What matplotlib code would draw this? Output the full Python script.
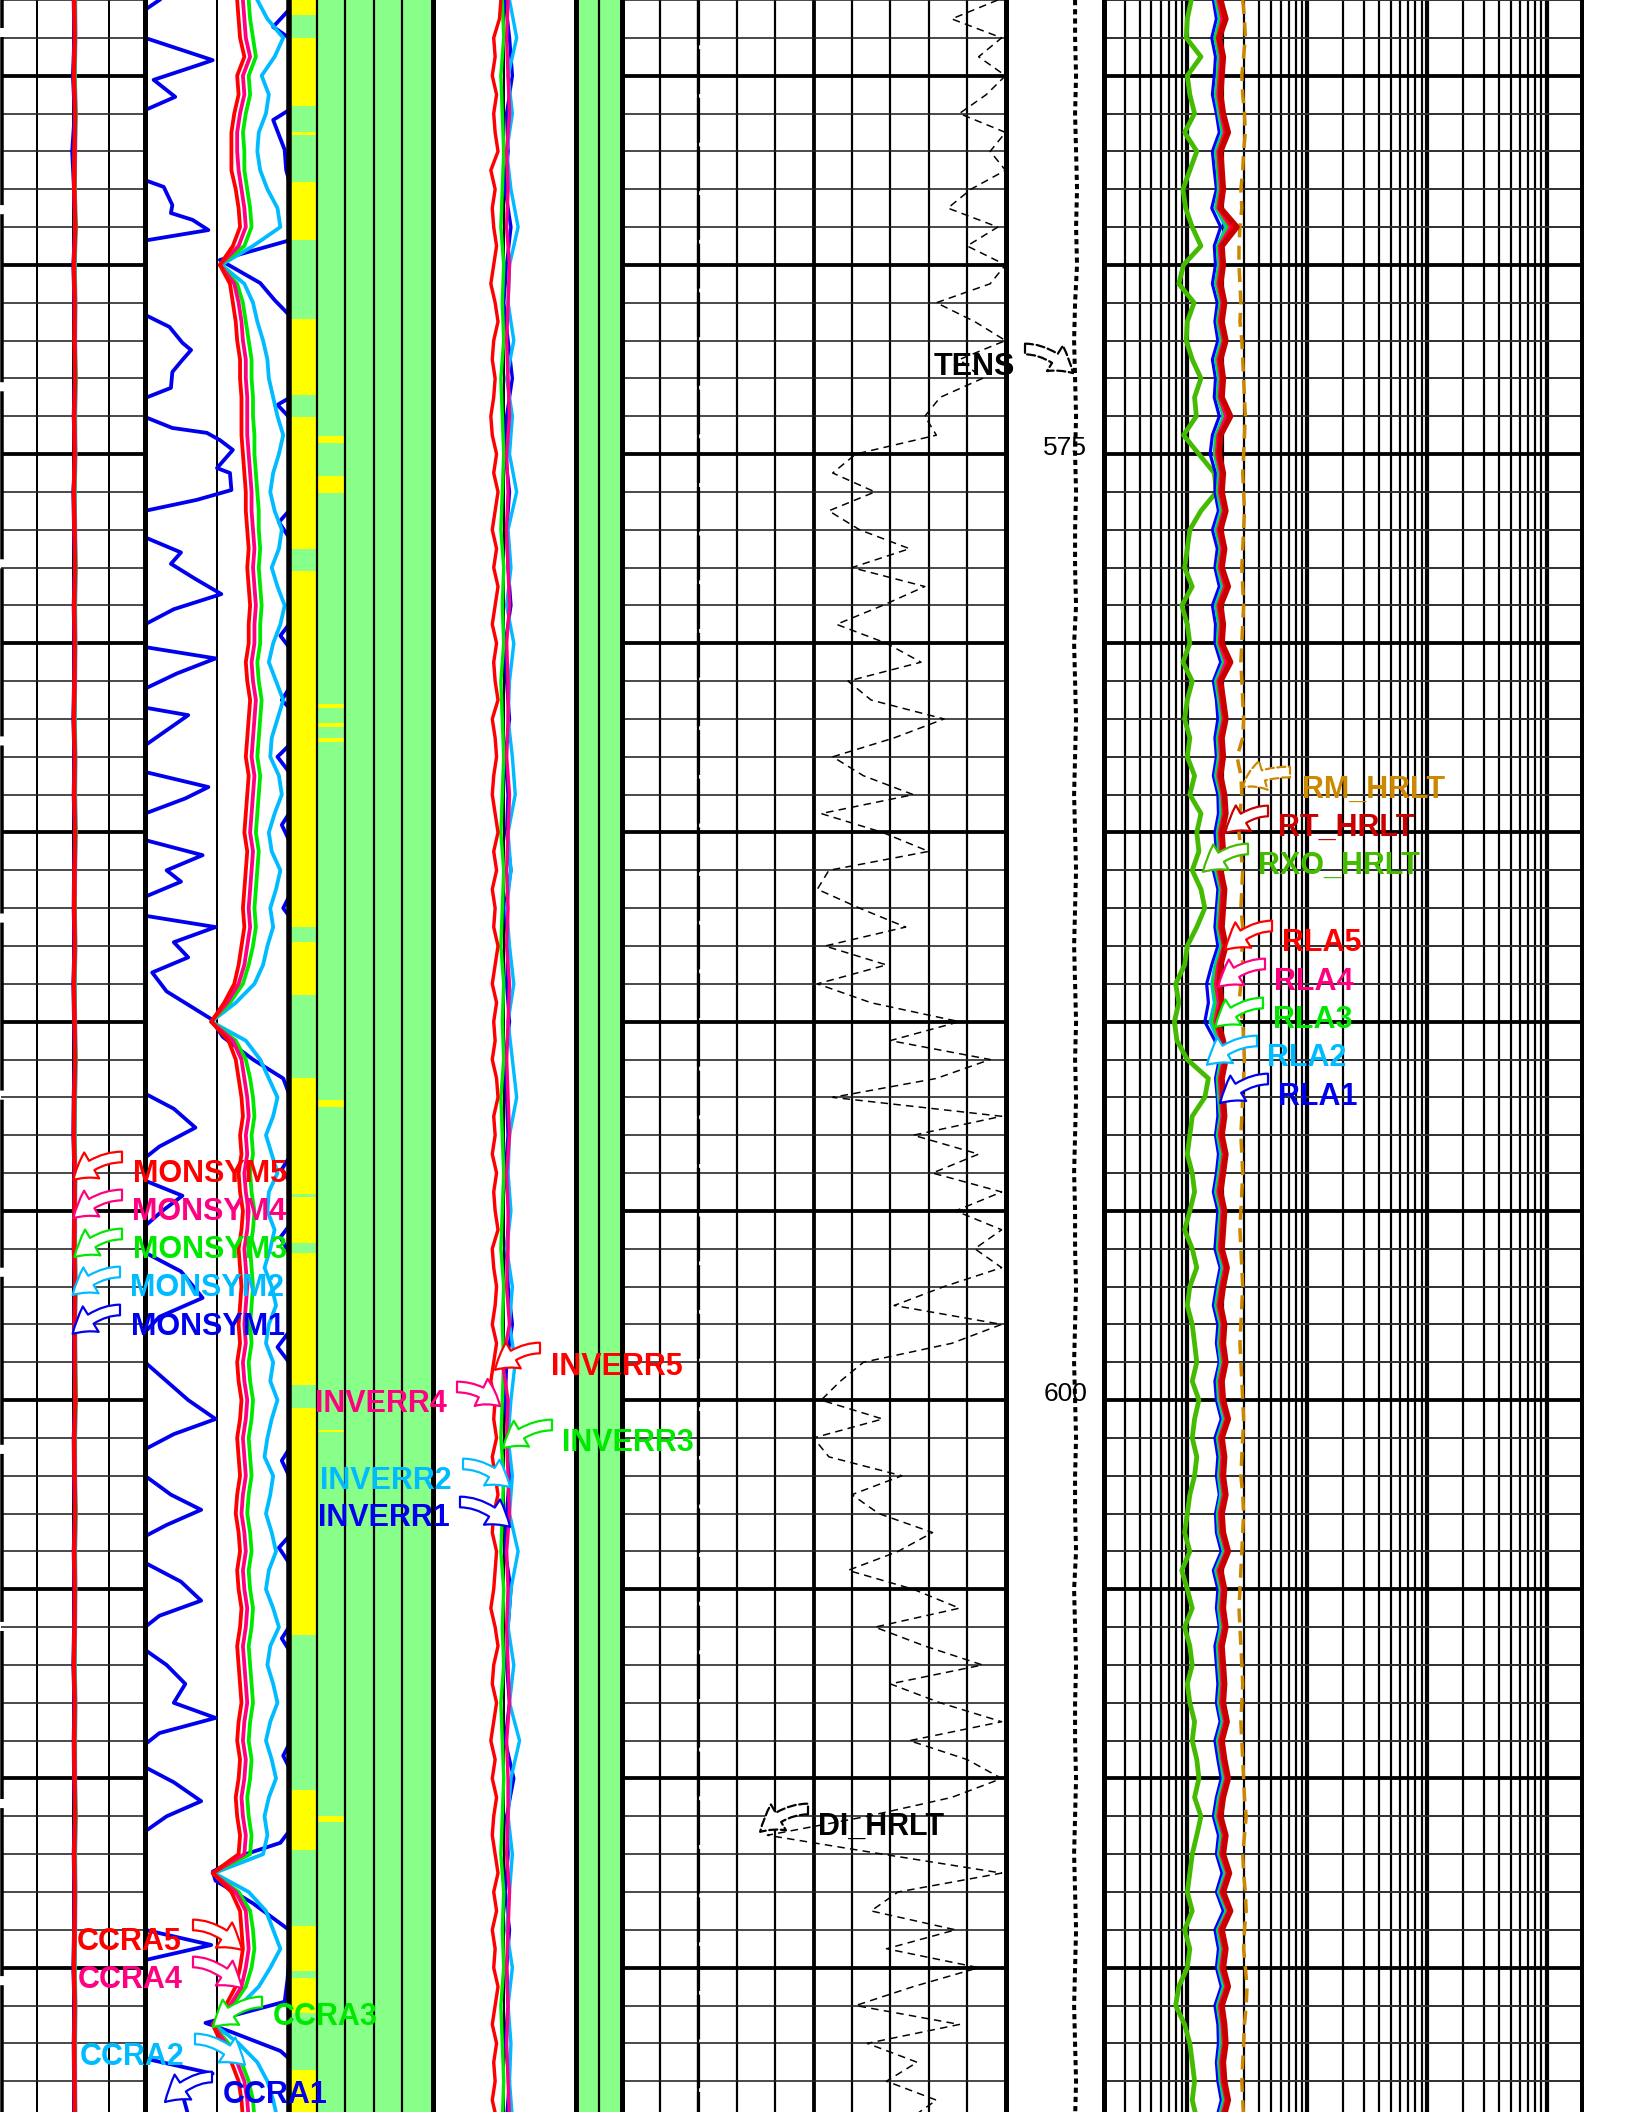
import numpy as np
import matplotlib
matplotlib.use("Agg")
import matplotlib.pyplot as plt

plt.rcParams['font.family'] = ['Liberation Sans', 'DejaVu Sans']

W, H, DPI = 1632, 2112, 100
PX_PER_M = 37.84
D_TOP = 563.0
D_BOT = D_TOP + H / PX_PER_M
PT = 72.0 / DPI          # points per pixel
STEP = 0.5               # sampling step (m) of the half-metre curves
STEP1 = 1.0              # sampling step (m) of the one-metre curves

# ------------------------------------------------------------------ data
depth_labels = [575, 600]

# Track 1 : MONSYM1..5 (1 m samples from 563 m)
monsym5 = [2.03,2.05,2.02,2.06,2.04,2.03,2.07,2.02,2.05,2.04,
           2.06,2.03,2.05,2.02,2.04,2.06,2.03,2.05,2.04,2.02,
           2.05,2.03,2.06,2.04,2.03,2.05,2.02,2.04,2.06,2.03,
           2.02,2.05,2.04,2.03,2.06,2.04,2.05,2.07,2.03,2.04,
           2.06,2.03,2.05,2.04,2.02,2.05,2.03,2.04,2.06,2.03,
           2.05,2.04,2.02,2.05,2.03,2.04,2.05]
monsym4 = [2.04,2.05,2.03,2.06,2.05,2.04,2.06,2.03,2.05,2.05,
           2.06,2.04,2.05,2.03,2.05,2.06,2.04,2.05,2.05,2.03,
           2.05,2.04,2.06,2.05,2.04,2.05,2.03,2.05,2.06,2.04,
           2.03,2.05,2.05,2.04,2.06,2.05,2.05,2.06,2.04,2.05,
           2.06,2.04,2.05,2.05,2.03,2.05,2.04,2.05,2.06,2.04,
           2.05,2.05,2.03,2.05,2.04,2.05,2.05]
monsym3 = [2.05,2.06,2.04,2.07,2.05,2.05,2.07,2.04,2.06,2.05,
           2.07,2.05,2.06,2.04,2.05,2.07,2.05,2.06,2.05,2.04,
           2.06,2.05,2.07,2.05,2.05,2.06,2.04,2.05,2.07,2.05,
           2.04,2.06,2.05,2.05,2.07,2.05,2.06,2.07,2.05,2.05,
           2.07,2.05,2.06,2.05,2.04,2.06,2.05,2.05,2.07,2.05,
           2.06,2.05,2.04,2.06,2.05,2.05,2.06]
monsym2 = [2.06,2.07,2.05,2.08,2.06,2.05,2.08,2.05,2.07,2.06,
           2.08,2.06,2.07,2.05,2.06,2.08,2.06,2.07,2.06,2.05,
           2.07,2.06,2.08,2.06,2.05,2.07,2.05,2.06,2.08,2.06,
           2.05,2.07,2.06,2.06,2.08,2.06,2.07,2.08,2.06,2.06,
           2.08,2.06,2.07,2.06,2.05,2.07,2.06,2.06,2.08,2.06,
           2.07,2.06,2.05,2.07,2.06,2.06,2.07]
monsym1 = [2.02,2.04,2.00,2.05,1.98,2.03,2.06,2.01,2.04,2.05,
           2.05,2.02,2.06,2.01,2.03,2.05,2.02,2.04,2.03,2.01,
           2.04,2.02,2.05,2.03,2.02,2.04,2.01,2.03,2.05,2.02,
           2.01,2.04,2.03,2.02,2.05,2.03,2.04,2.06,2.02,2.03,
           2.05,2.02,2.04,2.03,2.01,2.04,2.02,2.03,2.05,2.02,
           2.04,2.03,2.01,2.04,2.02,2.03,2.04]

# Track 2 : CCRA2..5 (0.5 m samples from 563 m), track units 0..10
ccra5 = [6.4,6.5,6.6,6.9,6.4,6.5,6.2,6.0,6.0,6.0,
         6.3,6.5,6.6,6.1,5.2,5.9,6.1,6.3,6.4,6.6,
         6.6,6.7,6.7,6.7,6.8,6.9,7.0,7.0,7.1,7.2,
         7.1,7.2,7.3,7.2,7.2,7.0,7.1,7.3,7.2,7.1,
         7.0,7.2,7.1,7.0,6.9,7.1,7.0,6.9,6.8,6.9,
         6.7,6.5,6.2,5.5,4.6,5.8,6.3,6.5,6.7,6.8,
         6.6,6.7,6.5,6.6,6.8,6.7,6.5,6.6,6.7,6.6,
         6.5,6.6,6.4,6.5,6.7,6.6,6.4,6.5,6.6,6.4,
         6.3,6.5,6.6,6.4,6.5,6.7,6.6,6.4,6.5,6.6,
         6.7,6.5,6.4,6.6,6.5,6.3,6.4,6.6,6.5,4.7,
         6.0,6.6,6.7,6.8,6.6,6.3,5.6,4.7,5.3,6.0,
         6.5,6.7,6.8]
ccra4 = [6.8,6.9,7.0,7.3,6.8,6.9,6.6,6.4,6.4,6.5,
         6.7,6.9,7.0,6.5,5.2,6.2,6.5,6.7,6.8,7.0,
         7.0,7.1,7.1,7.1,7.2,7.3,7.4,7.4,7.5,7.6,
         7.5,7.6,7.7,7.6,7.6,7.4,7.5,7.7,7.6,7.5,
         7.4,7.6,7.5,7.4,7.3,7.5,7.4,7.3,7.2,7.3,
         7.1,6.9,6.5,5.7,4.6,6.1,6.7,6.9,7.1,7.2,
         7.0,7.1,6.9,7.0,7.2,7.1,6.9,7.0,7.1,7.0,
         6.9,7.0,6.8,6.9,7.1,7.0,6.8,6.9,7.0,6.8,
         6.7,6.9,7.0,6.8,6.9,7.1,7.0,6.8,6.9,7.0,
         7.1,6.9,6.8,7.0,6.9,6.7,6.8,7.0,6.9,4.7,
         6.3,7.0,7.1,7.2,7.0,6.7,5.9,4.7,5.6,6.4,
         6.9,7.1,7.2]
ccra3 = [7.2,7.3,7.5,7.7,7.2,7.3,7.0,6.8,6.9,6.9,
         7.1,7.3,7.4,6.9,5.2,6.4,6.8,7.0,7.2,7.4,
         7.4,7.5,7.5,7.6,7.6,7.7,7.8,7.9,7.9,8.0,
         7.9,8.0,8.1,8.0,8.0,7.8,7.9,8.1,8.0,7.9,
         7.8,8.0,7.9,7.8,7.7,7.9,7.8,7.7,7.6,7.7,
         7.5,7.2,6.8,5.9,4.6,6.3,7.0,7.3,7.5,7.6,
         7.4,7.5,7.3,7.4,7.6,7.5,7.3,7.4,7.5,7.4,
         7.3,7.4,7.2,7.3,7.5,7.4,7.2,7.3,7.4,7.2,
         7.1,7.3,7.4,7.2,7.3,7.5,7.4,7.2,7.3,7.4,
         7.5,7.3,7.2,7.4,7.3,7.1,7.2,7.4,7.3,4.7,
         6.5,7.3,7.5,7.6,7.4,7.0,6.1,4.7,5.8,6.7,
         7.2,7.5,7.6]
ccra2 = [7.8,8.5,9.6,9.0,8.1,8.6,8.4,7.9,7.8,8.0,
         8.5,9.2,9.4,7.5,5.3,6.9,7.5,7.8,8.2,8.5,
         8.6,8.9,9.2,9.6,9.3,8.9,8.7,9.0,9.5,9.3,
         8.8,9.2,9.7,9.4,8.9,8.6,9.1,9.6,9.2,8.8,
         8.7,9.3,9.5,9.0,8.6,8.8,9.4,9.1,8.7,8.9,
         8.5,8.2,7.6,6.3,4.6,7.0,8.0,8.6,9.2,8.9,
         8.4,8.8,9.2,8.6,8.5,9.0,8.7,8.3,8.8,9.1,
         8.6,8.4,8.9,8.7,9.2,8.8,8.5,8.3,8.9,8.7,
         8.4,8.8,9.1,8.6,8.4,8.9,9.3,8.7,8.5,8.9,
         9.2,8.7,8.4,8.8,9.1,8.6,8.3,8.5,8.2,4.8,
         7.2,8.4,8.9,9.4,8.7,7.9,6.6,4.8,6.5,7.8,
         8.5,8.9,9.2]
# CCRA1 : wrapped curve, explicit vertices (depth m, value in track units, >10 = wrapped)
ccra1_depth = [563.00,563.26,563.71,564.00,564.59,564.72,565.11,565.56,565.91,566.17,
               566.96,567.49,567.76,567.94,568.42,568.63,568.81,569.08,569.36,569.87,
               570.48,570.93,571.32,571.64,572.06,572.25,572.51,572.83,573.25,573.52,
               573.70,574.02,574.31,574.44,574.63,574.89,575.37,575.50,575.95,576.21,
               576.50,576.80,577.20,577.60,577.90,578.30,578.70,579.10,579.50,579.80,
               580.10,580.40,580.80,581.20,581.50,581.70,581.90,582.30,582.70,583.00,
               583.40,583.80,584.10,584.50,584.80,585.20,585.60,586.00,586.30,586.70,
               587.00,587.20,587.50,587.90,588.30,588.70,589.20,589.60,589.93,590.40,
               591.00,591.50,591.90,592.30,592.80,593.30,593.60,593.90,594.20,594.60,
               595.00,595.40,595.70,596.10,596.60,597.30,597.80,598.20,598.60,599.00,
               599.50,600.00,600.50,600.90,601.30,601.60,602.00,602.50,602.90,603.30,
               603.60,603.90,604.30,604.80,605.30,605.70,606.00,606.30,606.60,607.00,
               607.50,608.00,608.40,608.80,609.10,609.40,609.70,610.10,610.60,611.00,
               611.40,611.70,612.00,612.46,612.70,613.30,614.00,614.40,614.80,615.30,
               615.90,616.46,616.70,617.20,617.40,617.80,618.20,618.90]
ccra1_value = [11.0,10.0,8.9,10.0,14.7,13.7,10.6,12.1,10.0,8.9,
               9.7,9.8,10.0,11.3,11.9,11.8,13.3,14.4,9.95,5.2,
               8.0,9.0,10.0,11.7,12.6,13.2,12.6,11.9,11.8,10.0,
               9.2,10.0,11.9,14.3,15.2,16.1,15.0,15.9,16.0,13.6,
               10.0,9.3,10.0,12.5,11.8,13.5,15.3,12.0,10.0,9.4,
               10.0,14.9,12.2,10.0,9.5,10.0,13.0,11.5,10.0,9.2,
               10.0,14.4,12.8,10.0,9.5,10.0,14.0,11.5,12.5,10.0,
               9.6,10.0,14.9,12.0,13.0,10.5,11.5,13.2,14.6,15.4,
               17.5,19.6,20.0,22.0,23.5,21.0,20.0,19.5,20.0,22.6,
               21.2,20.0,19.4,20.0,22.5,24.0,21.0,20.0,19.2,20.0,
               21.5,23.0,24.9,22.0,20.0,19.5,20.0,21.8,23.9,21.5,
               20.0,19.3,20.0,22.5,23.9,21.0,20.0,19.5,20.0,21.5,
               22.8,22.0,24.9,21.0,20.0,19.6,20.0,22.0,23.9,21.5,
               20.0,19.4,17.0,14.7,14.9,17.5,20.0,24.6,20.0,19.9,
               19.7,14.2,16.0,19.4,20.0,24.7,22.5,23.0]

# Track 3 : facies columns (depth intervals, m)
colA_yellow_top = [563.0,564.0,566.5,567.8,571.43,574.02,578.1,587.9,591.5,594.63,
                   596.1,600.2,610.3,613.9,615.27,617.7]
colA_yellow_bot = [563.4,565.8,566.57,569.34,573.44,577.5,587.5,589.3,594.55,595.85,
                   599.6,606.2,611.9,615.1,616.2,618.9]
colB_yellow_top = [574.52,575.58,581.6,582.1,582.5,592.07,600.8,611.0]
colB_yellow_bot = [574.71,576.03,581.7,582.2,582.6,592.25,600.85,611.15]

# Track 4 : INVERR1..5, track units 0..10 (centre 5)
inverr5 = [4.8,4.7,4.3,4.4,4.2,4.5,4.3,4.4,4.6,4.1,
           4.4,4.2,4.3,4.5,4.3,4.1,4.4,4.6,4.3,4.2,
           4.4,4.3,4.1,4.2,4.5,4.3,4.6,4.4,4.2,4.5,
           4.3,4.6,4.4,4.2,4.5,4.3,4.4,4.6,4.2,4.4,
           4.5,4.3,4.2,4.4,4.6,4.3,4.5,4.2,4.4,4.3,
           4.6,4.4,4.2,4.5,4.3,4.4,4.2,4.5,4.6,4.3,
           4.4,4.2,4.5,4.3,4.4,4.6,4.2,4.3,4.5,4.4,
           4.2,4.5,4.3,4.1,4.4,4.3,4.5,4.2,4.4,4.6,
           4.3,4.2,4.5,4.4,4.3,4.1,4.4,4.6,4.3,4.2,
           4.5,4.3,4.1,4.4,4.2,4.5,4.3,4.2,4.4,4.6,
           4.3,4.5,4.2,4.4,4.3,4.6,4.4,4.2,4.5,4.3,
           4.4,4.2,4.5]
inverr4 = [5.3,5.2,5.3,5.4,5.2,5.3,5.2,5.4,5.3,5.2,
           5.3,5.4,5.2,5.3,5.2,5.3,5.4,5.2,5.3,5.3,
           5.2,5.4,5.3,5.2,5.3,5.2,5.4,5.3,5.2,5.3,
           5.4,5.2,5.3,5.3,5.2,5.4,4.9,5.3,5.2,5.3,
           5.4,5.2,5.3,5.2,5.3,5.4,5.2,5.3,5.3,5.2,
           5.4,5.3,5.2,5.3,5.2,5.3,5.4]
inverr3 = [4.9,5.0,4.8,4.9,5.0,4.9,4.8,5.0,4.9,5.0,
           4.8,4.9,5.0,4.9,4.8,5.0,4.9,5.0,4.8,4.9,
           5.0,4.9,4.8,5.0,4.9,4.8,5.0,4.9,5.0,4.8,
           4.9,5.0,4.9,4.8,5.0,4.9,5.0,4.9,4.8,5.0,
           4.9,4.8,5.0,4.9,5.0,4.8,4.9,5.0,4.9,4.8,
           5.0,4.9,5.0,4.8,4.9,5.0,4.9]
inverr2 = [5.4,5.9,5.3,5.6,5.2,5.5,6.0,5.4,5.3,5.7,
           5.2,5.6,5.4,5.9,5.3,5.5,5.2,5.7,5.4,5.3,
           5.6,5.8,5.3,5.5,5.2,5.4,5.7,5.3,5.6,5.9,
           5.4,5.3,5.5,5.2,5.6,5.4,5.8,5.5,5.3,5.6,
           5.4,6.0,5.5,5.3,5.7,5.4,6.1,5.5,5.3,5.6,
           5.4,5.2,5.6,5.3,5.5,5.4,5.6]
inverr1 = [5.1,5.4,5.6,5.2,5.3,5.1,5.5,5.2,5.0,5.3,
           5.6,5.2,5.1,5.4,5.2,5.3,5.5,5.1,5.2,5.4,
           5.1,5.3,5.2,5.5,5.1,5.3,5.2,5.4,5.1,5.2,
           5.3,5.1,5.4,5.2,5.3,5.6,5.2,5.1,5.3,5.4,
           5.2,5.1,5.5,5.3,5.2,5.4,5.1,5.7,5.2,5.3,
           5.1,5.4,5.2,5.3,5.1,5.4,5.2]

# Track 6 : DI_HRLT (0.5 m samples), BS reference line, track units 0..10
di_hrlt = [9.8,8.6,9.9,9.3,10.0,9.5,8.8,10.0,9.6,10.0,
           9.1,8.5,9.8,9.0,10.0,9.6,8.2,9.2,10.0,8.8,
           9.4,8.3,7.9,8.2,6.1,5.5,6.6,5.4,6.2,7.5,
           6.0,7.9,6.8,5.6,6.9,7.8,5.9,6.5,8.4,7.1,
           5.5,6.3,7.6,5.2,6.8,8.0,5.4,5.1,6.2,7.4,
           5.3,6.9,5.1,6.5,8.8,7.0,9.6,8.2,5.5,9.9,
           7.6,9.3,8.1,9.9,8.7,9.9,9.2,9.9,8.4,7.1,
           9.9,8.6,6.3,5.7,5.2,6.8,5.0,5.4,7.3,6.0,
           6.7,8.1,7.2,5.9,7.6,8.8,6.6,7.9,9.4,7.0,
           8.3,9.9,7.5,9.0,9.9,8.6,6.4,3.8,6.8,9.9,
           7.2,6.5,8.7,6.9,9.3,7.6,6.1,8.8,6.4,7.7,
           6.9,8.2,7.5]
bs_depth = [563.0, 619.0]
bs_value = [2.0, 2.0]

# Track 7 : TENS (1 m samples), track units 0..10
tens = [7.1,7.1,7.2,7.1,7.2,7.3,7.2,7.3,7.1,7.0,
        7.1,7.2,7.1,7.2,7.1,7.1,7.2,7.0,7.1,7.2,
        7.1,7.0,7.1,7.2,7.1,7.0,7.1,7.2,7.1,7.2,
        7.1,7.0,7.1,7.1,7.2,7.1,7.0,7.1,7.2,7.1,
        7.1,7.2,7.0,7.1,7.2,7.1,7.1,7.2,7.1,7.0,
        7.1,7.2,7.1,7.0,7.1,7.2,7.1]

# Track 8 : resistivities (ohm.m, 0.5 m samples)
rxo_hrlt = [1.08,1.0,0.98,1.3,1.0,1.05,1.15,0.95,1.2,1.05,
            0.92,0.97,1.1,1.3,0.93,0.85,1.14,1.0,0.98,1.1,
            1.3,1.15,1.19,0.93,1.25,1.68,1.75,1.3,1.05,1.0,
            0.95,1.1,0.9,1.0,1.05,0.92,1.1,1.0,0.95,1.05,
            1.0,1.15,1.05,1.3,1.2,1.25,1.1,1.3,1.4,1.2,
            1.0,0.95,0.8,0.85,0.78,0.82,1.0,1.5,1.4,1.1,
            1.05,1.0,1.1,1.15,1.05,0.95,1.1,1.2,1.05,1.0,
            1.1,1.15,1.2,1.1,1.25,1.15,1.1,1.2,1.15,1.05,
            1.0,0.95,1.05,0.9,1.0,1.1,0.95,1.05,1.1,1.0,
            1.05,1.15,1.1,1.2,1.25,1.15,1.3,1.2,1.1,1.05,
            1.0,1.1,0.95,1.05,1.0,0.85,0.8,0.95,1.05,1.1,
            1.15,1.1,1.2]
rt_hrlt = [1.9,2.1,1.85,2.0,1.95,1.9,2.0,2.2,1.9,1.95,
           2.0,1.9,2.6,1.95,2.0,1.9,2.05,1.95,2.1,1.9,
           2.0,1.95,2.3,1.9,1.85,2.0,1.95,2.1,1.9,2.05,
           1.95,2.2,1.9,2.0,1.95,2.3,1.9,2.0,2.1,1.95,
           2.0,1.9,2.05,2.1,1.95,2.0,1.9,2.05,2.0,1.95,
           2.1,1.9,1.85,1.95,1.8,2.0,2.1,1.95,2.0,2.05,
           1.95,2.1,2.0,1.9,2.05,2.0,1.95,2.15,2.0,1.9,
           2.05,2.0,2.1,1.95,2.0,2.2,1.95,2.05,2.0,2.1,
           1.95,2.0,2.2,1.9,2.05,2.0,2.1,1.95,2.0,2.05,
           2.0,2.15,1.95,2.05,2.2,2.0,1.9,2.1,2.0,2.25,
           2.0,2.3,1.95,2.1,2.0,2.2,1.95,2.05,2.1,2.0,
           2.05,2.2,2.0]
rla5 = [1.85,2.0,1.8,1.95,1.9,1.85,1.95,2.1,1.85,1.9,
        1.95,1.85,2.4,1.9,1.95,1.85,2.0,1.9,2.05,1.85,
        1.95,1.9,2.2,1.85,1.8,1.95,1.9,2.05,1.85,2.0,
        1.9,2.1,1.85,1.95,1.9,2.2,1.85,1.95,2.05,1.9,
        1.95,1.85,2.0,2.05,1.9,1.95,1.85,2.0,1.95,1.9,
        2.05,1.85,1.8,1.9,1.75,1.95,2.05,1.9,1.95,2.0,
        1.9,2.05,1.95,1.85,2.0,1.95,1.9,2.1,1.95,1.85,
        2.0,1.95,2.05,1.9,1.95,2.15,1.9,2.0,1.95,2.05,
        1.9,1.95,2.15,1.85,2.0,1.95,2.05,1.9,1.95,2.0,
        1.95,2.1,1.9,2.0,2.15,1.95,1.85,2.05,1.95,2.2,
        1.95,2.25,1.9,2.05,1.95,2.15,1.9,2.0,2.05,1.95,
        2.0,2.15,1.95]
rla4 = [1.8,1.95,1.78,1.9,1.85,1.8,1.9,2.05,1.8,1.85,
        1.9,1.8,2.3,1.85,1.9,1.8,1.95,1.85,2.0,1.8,
        1.9,1.85,2.1,1.8,1.75,1.9,1.85,2.0,1.8,1.95,
        1.85,2.05,1.8,1.9,1.85,2.1,1.8,1.9,2.0,1.85,
        1.9,1.8,1.95,2.0,1.85,1.9,1.8,1.95,1.9,1.85,
        2.0,1.8,1.72,1.82,1.7,1.9,2.0,1.85,1.9,1.95,
        1.85,2.0,1.9,1.8,1.95,1.9,1.85,2.05,1.9,1.8,
        1.95,1.9,2.0,1.85,1.9,2.1,1.85,1.95,1.9,2.0,
        1.85,1.9,2.1,1.8,1.95,1.9,2.0,1.85,1.9,1.95,
        1.9,2.05,1.85,1.95,2.1,1.9,1.8,2.0,1.9,2.15,
        1.9,2.2,1.85,2.0,1.9,2.1,1.85,1.95,2.0,1.9,
        1.95,2.1,1.9]
rla3 = [1.75,1.9,1.72,1.85,1.8,1.75,1.85,2.0,1.75,1.8,
        1.85,1.75,2.2,1.8,1.85,1.75,1.9,1.8,1.95,1.75,
        1.85,1.8,2.05,1.75,1.7,1.85,1.8,1.95,1.75,1.9,
        1.8,2.0,1.75,1.85,1.8,2.05,1.75,1.85,1.95,1.8,
        1.85,1.75,1.9,1.95,1.8,1.85,1.75,1.9,1.85,1.8,
        1.95,1.75,1.65,1.75,1.62,1.85,1.95,1.8,1.85,1.9,
        1.8,1.95,1.85,1.75,1.9,1.85,1.8,2.0,1.85,1.75,
        1.9,1.85,1.95,1.8,1.85,2.05,1.8,1.9,1.85,1.95,
        1.8,1.85,2.05,1.75,1.9,1.85,1.95,1.8,1.85,1.9,
        1.85,2.0,1.8,1.9,2.05,1.85,1.75,1.95,1.85,2.1,
        1.85,2.15,1.8,1.95,1.85,2.05,1.8,1.9,1.95,1.85,
        1.9,2.05,1.85]
rla2 = [1.72,1.85,1.7,1.82,1.78,1.72,1.82,1.95,1.72,1.78,
        1.82,1.72,2.1,1.78,1.82,1.72,1.88,1.78,1.9,1.72,
        1.82,1.78,2.0,1.72,1.68,1.82,1.78,1.9,1.72,1.88,
        1.78,1.95,1.72,1.82,1.78,2.0,1.72,1.82,1.9,1.78,
        1.82,1.72,1.88,1.9,1.78,1.82,1.72,1.88,1.82,1.78,
        1.9,1.7,1.6,1.68,1.55,1.8,1.9,1.78,1.82,1.88,
        1.78,1.9,1.82,1.72,1.88,1.82,1.78,1.95,1.82,1.72,
        1.88,1.82,1.9,1.78,1.82,2.0,1.78,1.88,1.82,1.9,
        1.78,1.82,2.0,1.72,1.88,1.82,1.9,1.78,1.82,1.88,
        1.82,1.95,1.78,1.88,2.0,1.82,1.72,1.9,1.82,2.05,
        1.82,2.1,1.78,1.9,1.82,2.0,1.78,1.88,1.9,1.82,
        1.88,2.0,1.82]
rla1 = [1.65,1.75,1.6,1.72,1.68,1.62,1.75,1.85,1.62,1.68,
        1.75,1.6,1.9,1.68,1.72,1.62,1.78,1.7,1.8,1.62,
        1.72,1.68,1.85,1.62,1.55,1.72,1.7,1.82,1.62,1.78,
        1.7,1.85,1.62,1.72,1.7,1.9,1.65,1.75,1.8,1.7,
        1.75,1.65,1.8,1.82,1.7,1.75,1.65,1.8,1.75,1.7,
        1.8,1.6,1.45,1.5,1.4,1.7,1.85,1.72,1.78,1.8,
        1.72,1.82,1.75,1.65,1.8,1.75,1.7,1.88,1.75,1.65,
        1.8,1.75,1.85,1.7,1.75,1.92,1.7,1.8,1.75,1.85,
        1.72,1.75,1.92,1.65,1.8,1.75,1.85,1.7,1.75,1.8,
        1.75,1.88,1.7,1.8,1.92,1.75,1.65,1.82,1.75,1.95,
        1.75,2.0,1.7,1.82,1.75,1.92,1.7,1.8,1.82,1.75,
        1.8,1.92,1.75]
rm_hrlt = [2.9,3.0,3.05,2.95,2.85,2.9,3.0,3.05,2.95,2.9,
           2.8,2.85,2.75,2.7,2.7,2.75,2.8,2.75,2.85,2.9,
           2.95,3.0,3.05,3.0,2.95,2.9,2.95,3.0,2.95,2.9,
           2.85,2.9,2.95,2.9,2.85,2.8,2.85,2.9,2.95,2.9,
           2.6,2.8,2.85,2.75,2.7,2.8,2.9,2.85,2.8,2.9,
           2.85,2.9,2.8,2.7,2.9,2.95,3.0,2.95,2.9,2.85,
           2.8,2.85,2.9,2.85,2.8,2.75,2.8,2.85,2.9,2.85,
           2.8,2.75,2.8,2.85,2.9,2.95,2.9,2.85,2.8,2.9,
           2.95,2.9,2.85,2.8,2.75,2.7,2.75,2.8,2.85,2.9,
           2.85,2.8,2.85,2.9,2.95,3.0,3.1,3.0,2.9,2.95,
           3.05,3.1,3.0,2.95,3.05,3.15,3.1,3.0,2.95,2.9,
           2.85,2.9,2.95]

# ------------------------------------------------------------------ styling
RED, PINK, GRN, CYAN, BLUE = '#FF0000', '#FF0080', '#00E800', '#00BBFF', '#0000EE'
DKRED, RXOG, RMOR = '#C80000', '#44BB00', '#CC8800'
LGREEN, YEL = '#88FF88', '#FFFF00'


def dep(vals, step):
    return D_TOP + step * np.arange(len(vals))


fig = plt.figure(figsize=(W / DPI, H / DPI), dpi=DPI)
fig.patch.set_facecolor('white')


def track(x0, x1, xlim, log=False):
    ax = fig.add_axes([x0 / W, 0, (x1 - x0) / W, 1])
    if log:
        ax.set_xscale('log')
    ax.set_xlim(*xlim)
    ax.set_ylim(D_BOT, D_TOP)
    ax.set_axis_off()
    return ax


def depth_grid(ax, lw_minor, lw_major, col='#222222'):
    for d in range(int(np.ceil(D_TOP)), int(D_BOT) + 1):
        major = d % 5 == 0
        ax.axhline(d, color='black' if major else col,
                   lw=(lw_major if major else lw_minor) * PT, zorder=1)


# Track 1 ---------------------------------------------------------------
ax1 = track(1, 145, (0, 4))
for v in (1, 2, 3):
    ax1.axvline(v, color='black', lw=2.0 * PT, zorder=1)
depth_grid(ax1, 1.6, 3.8)
for vals, c in ((monsym1, BLUE), (monsym2, CYAN), (monsym3, GRN), (monsym4, PINK), (monsym5, RED)):
    ax1.plot(vals, dep(vals, STEP1), color=c, lw=4.0 * PT, zorder=3)

# Track 2 ---------------------------------------------------------------
ax2 = track(145, 289, (0, 10))
ax2.axvline(5, color='black', lw=2.0 * PT, zorder=1)
for shift in (0, 10, 20):
    ax2.plot(np.array(ccra1_value) - shift, ccra1_depth, color=BLUE, lw=3.8 * PT, zorder=3)
for vals, c in ((ccra2, CYAN), (ccra3, GRN), (ccra4, PINK), (ccra5, RED)):
    ax2.plot(vals, dep(vals, STEP), color=c, lw=3.8 * PT, zorder=3)

# Track 3 ---------------------------------------------------------------
ax3 = track(288, 431, (0, 5))
ax3.axvspan(0, 5, color=LGREEN, lw=0, zorder=0)
for t, b in zip(colA_yellow_top, colA_yellow_bot):
    ax3.fill_betweenx([t, b], 0, 1, color=YEL, lw=0, zorder=1)
for t, b in zip(colB_yellow_top, colB_yellow_bot):
    ax3.fill_betweenx([t, b], 1, 2, color=YEL, lw=0, zorder=1)
for v in (1, 2, 3, 4):
    ax3.axvline(v, color='black', lw=2.2 * PT, zorder=2)

# Track 4 ---------------------------------------------------------------
ax4 = track(432, 575.5, (0, 10))
ax4.axvline(5, color='black', lw=2.0 * PT, zorder=1)
for vals, c, st in ((inverr1, BLUE, STEP1), (inverr2, CYAN, STEP1), (inverr3, GRN, STEP1),
                    (inverr4, PINK, STEP1), (inverr5, RED, STEP)):
    ax4.plot(vals, dep(vals, st), color=c, lw=3.4 * PT, zorder=3)

# Track 5 ---------------------------------------------------------------
ax5 = track(575.5, 621.5, (0, 2))
ax5.axvspan(0, 2, color=LGREEN, lw=0, zorder=0)
ax5.axvline(1, color='black', lw=2.2 * PT, zorder=2)

# Track 6 ---------------------------------------------------------------
ax6 = track(621.5, 1005.5, (0, 10))
for v in range(1, 10):
    ax6.axvline(v, color='black', lw=(3.8 if v == 5 else 2.2) * PT, zorder=1)
depth_grid(ax6, 1.6, 3.8)
ax6.plot(bs_value, bs_depth, color='black', lw=3.2 * PT, ls=(0, (14, 1.2)), zorder=2)
ax6.plot(di_hrlt, dep(di_hrlt, STEP), color='black', lw=1.5 * PT, ls=(0, (5, 3.5)), zorder=3)

# Track 7 (depth) -------------------------------------------------------
ax7 = track(1005.5, 1103.5, (0, 10))
ax7.plot(tens, dep(tens, STEP1), color='black', lw=4.0 * PT, ls=(0, (1.3, 1.0)), zorder=3)
for d in depth_labels:
    ax7.text(6.1, d + 0.03, str(d), ha='center', va='baseline', fontsize=19,
             color='black', zorder=4)

# Track 8 ---------------------------------------------------------------
ax8 = track(1103.5, 1583, (0.2, 2000), log=True)
for dec in (0.1, 1, 10, 100, 1000):
    for m in range(1, 10):
        v = m * dec
        if 0.2 < v < 2000:
            ax8.axvline(v, color='black', lw=(4.2 if m == 1 else 2.2) * PT, zorder=1)
depth_grid(ax8, 2.0, 3.8, col='#333333')
ax8.plot(rm_hrlt, dep(rm_hrlt, STEP), color=RMOR, lw=3.5 * PT, ls=(0, (4, 2.4)), zorder=3)
ax8.plot(rxo_hrlt, dep(rxo_hrlt, STEP), color=RXOG, lw=4.8 * PT, zorder=3)
for vals, c in ((rla1, BLUE), (rla2, CYAN), (rla3, GRN), (rla4, PINK), (rla5, RED)):
    ax8.plot(vals, dep(vals, STEP), color=c, lw=3.2 * PT, zorder=3)
ax8.plot(rt_hrlt, dep(rt_hrlt, STEP), color=DKRED, lw=5.5 * PT, zorder=4)

# Overlay : borders + labels ---------------------------------------------
ov = fig.add_axes([0, 0, 1, 1], zorder=10)
ov.set_xlim(0, W)
ov.set_ylim(H, 0)
ov.set_axis_off()

for x, w in ((145, 5), (289, 5.5), (432.5, 5), (575.5, 5), (621.5, 5),
             (1005.5, 5), (1103.5, 5), (1582, 4)):
    ov.axvline(x, color='black', lw=w * PT)
# left frame edge (broken thick line)
ov.plot([1.5, 1.5], [0, H], color='black', lw=3.5 * PT, ls=(40, (48, 2.6)))

labels = [
    # text, colour, text x, text y, arrow tail x, tail y, axis, tip value, tip depth, dashed
    ('MONSYM5', RED, 133, 1174, 122, 1157, ax1, 2.01, 594.18, False),
    ('MONSYM4', PINK, 132, 1212, 122, 1195, ax1, 2.01, 595.19, False),
    ('MONSYM3', GRN, 133, 1250, 122, 1234, ax1, 2.04, 596.22, False),
    ('MONSYM2', CYAN, 130, 1288, 120, 1272, ax1, 1.99, 597.22, False),
    ('MONSYM1', BLUE, 131, 1327, 120, 1310, ax1, 1.99, 598.25, False),
    ('INVERR5', RED, 551, 1367, 540, 1348, ax4, 4.39, 599.20, False),
    ('INVERR4', PINK, 315, 1404, 457, 1387, ax4, 4.74, 600.16, False),
    ('INVERR3', GRN, 562, 1443, 552, 1425, ax4, 4.95, 601.27, False),
    ('INVERR2', CYAN, 320, 1481, 463, 1464, ax4, 5.44, 602.30, False),
    ('INVERR1', BLUE, 318, 1518, 460, 1502, ax4, 5.44, 603.35, False),
    ('CCRA5', RED, 77, 1942, 193, 1925, ax2, 6.74, 614.53, False),
    ('CCRA4', PINK, 78, 1980, 193, 1962, ax2, 6.74, 615.54, False),
    ('CCRA3', GRN, 273, 2017, 262, 2002, ax2, 4.72, 616.57, False),
    ('CCRA2', CYAN, 80, 2057, 195, 2039, ax2, 6.94, 617.57, False),
    ('CCRA1', BLUE, 223, 2095, 212, 2077, ax2, 1.39, 618.55, False),
    ('RM_HRLT', RMOR, 1302, 790, 1290, 772, ax8, 2.92, 583.80, True),
    ('RT_HRLT', DKRED, 1278, 828, 1268, 811, ax8, 2.07, 585.01, False),
    ('RXO_HRLT', RXOG, 1258, 866, 1248, 849, ax8, 1.35, 586.04, False),
    ('RLA5', RED, 1282, 943, 1272, 926, ax8, 2.07, 588.10, False),
    ('RLA4', PINK, 1274, 982, 1265, 964, ax8, 1.81, 589.08, False),
    ('RLA3', GRN, 1273, 1020, 1263, 1003, ax8, 1.71, 590.14, False),
    ('RLA2', CYAN, 1267, 1058, 1257, 1041, ax8, 1.46, 591.14, False),
    ('RLA1', BLUE, 1278, 1097, 1268, 1079, ax8, 1.88, 592.15, False),
    ('TENS', 'black', 934, 367, 1025, 349, ax7, 6.89, 572.86, True),
    ('DI_HRLT', 'black', 818, 1827, 808, 1809, ax6, 3.61, 611.41, True),
]
fig.canvas.draw()
for txt, c, tx, ty, ax_, ay_, axis, tv, td, dashed in labels:
    tip_px = axis.transData.transform((tv, td))
    tail_px = ov.transData.transform((ax_, ay_))
    angB = 45 if tip_px[0] < tail_px[0] else -45
    ov.annotate('', xy=(tv, td), xycoords=axis.transData, xytext=(ax_, ay_), textcoords='data',
                arrowprops=dict(arrowstyle='simple,head_length=0.7,head_width=0.9,tail_width=0.32',
                                connectionstyle='angle3,angleA=0,angleB=%d' % angB,
                                fc='white', ec=c, lw=2.2 * PT,
                                ls='--' if dashed else '-', shrinkA=0, shrinkB=0,
                                mutation_scale=24))
    ov.text(tx, ty, txt, color=c, fontsize=22, fontweight='bold', ha='left', va='center')

fig.savefig('out.png', dpi=DPI, facecolor='white')
